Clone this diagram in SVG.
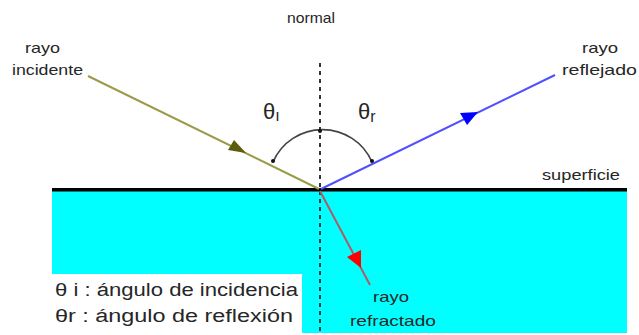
<svg xmlns="http://www.w3.org/2000/svg" width="639" height="335" viewBox="0 0 639 335">
<style>
.t{font-family:"Liberation Sans",Arial,sans-serif;fill:#262626;}
.s{font-size:15px;}
.l{font-size:18px;}
.dot{fill:#111;}
</style>
<rect width="639" height="335" fill="#fff"/>
<g id="medium">
<rect x="52" y="191" width="575" height="142" fill="#00ffff"/>
<rect x="52" y="274" width="250" height="61" fill="#fff"/>
<rect x="52" y="188" width="575" height="3.5" fill="#000"/>
<text class="t s" x="542" y="180" textLength="78" lengthAdjust="spacingAndGlyphs">superficie</text>
</g>
<g id="normal">
<line x1="320" y1="63" x2="320" y2="335" stroke="#2a3a3a" stroke-width="2" stroke-dasharray="4,4"/>
<text class="t s" x="287" y="23" textLength="48" lengthAdjust="spacingAndGlyphs">normal</text>
</g>
<g id="connectors">
<line id="incident" x1="88" y1="76" x2="319" y2="189" stroke="#9a9a48" stroke-width="2"/>
<polygon points="234,140 228,150 246,153" fill="#5c5c0c"/>
<line id="reflected" x1="321" y1="189" x2="555" y2="75" stroke="#5050ff" stroke-width="2"/>
<polygon points="460,113 478,112 467,125" fill="#0000ff"/>
<line id="refracted" x1="320" y1="191" x2="370" y2="285" stroke="#b05a68" stroke-width="2"/>
<polygon points="347,257 361,250 361,268" fill="#ff0000"/>
<path d="M273,162 A54,54 0 0 1 372,162" fill="none" stroke="#444" stroke-width="1.6"/>
<circle class="dot" cx="273" cy="161" r="2"/>
<circle class="dot" cx="372" cy="161" r="2"/>
<circle class="dot" cx="320" cy="131" r="2"/>
</g>
<g id="labels">
<text class="t s" x="25" y="53" textLength="35" lengthAdjust="spacingAndGlyphs">rayo</text>
<text class="t s" x="12" y="75" textLength="71" lengthAdjust="spacingAndGlyphs">incidente</text>
<text class="t s" x="582" y="53" textLength="36" lengthAdjust="spacingAndGlyphs">rayo</text>
<text class="t s" x="562" y="75" textLength="75" lengthAdjust="spacingAndGlyphs">reflejado</text>
<text class="t s" x="373" y="302" textLength="36" lengthAdjust="spacingAndGlyphs">rayo</text>
<text class="t s" x="350" y="326" textLength="86" lengthAdjust="spacingAndGlyphs">refractado</text>
<text class="t" x="263" y="119" font-size="22">θ<tspan font-size="16" dy="2">ı</tspan></text>
<text class="t" x="358" y="119" font-size="22">θ<tspan font-size="16" dy="3">r</tspan></text>
</g>
<g id="legend">
<text class="t l" x="55" y="296" textLength="243" lengthAdjust="spacingAndGlyphs">θ i : ángulo de incidencia</text>
<text class="t l" x="55" y="322" textLength="238" lengthAdjust="spacingAndGlyphs">θr : ángulo de reflexión</text>
</g>
</svg>
